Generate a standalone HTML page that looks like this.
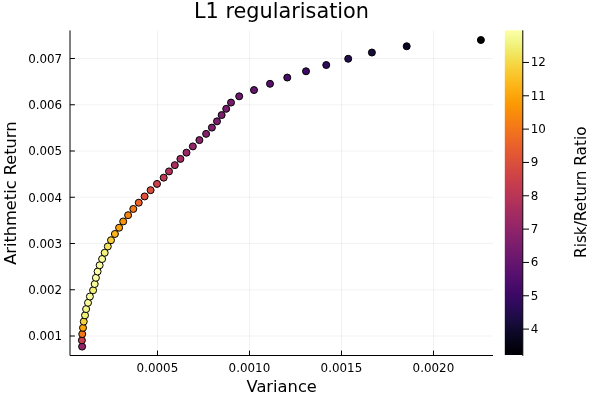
<!DOCTYPE html>
<html><head><meta charset="utf-8"><title>L1 regularisation</title>
<style>html,body{margin:0;padding:0;background:#fff;overflow:hidden}svg{display:block}text{font-family:"DejaVu Sans","Liberation Sans",sans-serif;fill:#000}</style></head><body>
<svg width="600" height="400" viewBox="0 0 600 400">
<rect width="600" height="400" fill="#fff"/>
<defs><linearGradient id="g" x1="0" y1="0" x2="0" y2="1"><stop offset="0.0000" stop-color="#fcffa4"/><stop offset="0.0156" stop-color="#f8fb9a"/><stop offset="0.0312" stop-color="#f3f68a"/><stop offset="0.0469" stop-color="#f1f179"/><stop offset="0.0625" stop-color="#f2ea69"/><stop offset="0.0781" stop-color="#f3e35a"/><stop offset="0.0938" stop-color="#f5db4c"/><stop offset="0.1094" stop-color="#f7d340"/><stop offset="0.1250" stop-color="#f9cb35"/><stop offset="0.1406" stop-color="#fac42a"/><stop offset="0.1562" stop-color="#fbbc21"/><stop offset="0.1719" stop-color="#fcb418"/><stop offset="0.1875" stop-color="#fcac11"/><stop offset="0.2031" stop-color="#fca50a"/><stop offset="0.2188" stop-color="#fb9d07"/><stop offset="0.2344" stop-color="#fb9606"/><stop offset="0.2500" stop-color="#f98e09"/><stop offset="0.2656" stop-color="#f8870e"/><stop offset="0.2812" stop-color="#f68013"/><stop offset="0.2969" stop-color="#f47918"/><stop offset="0.3125" stop-color="#f1731d"/><stop offset="0.3281" stop-color="#ef6c23"/><stop offset="0.3438" stop-color="#eb6628"/><stop offset="0.3594" stop-color="#e8602d"/><stop offset="0.3750" stop-color="#e45a31"/><stop offset="0.3906" stop-color="#e05536"/><stop offset="0.4062" stop-color="#db503b"/><stop offset="0.4219" stop-color="#d74b3f"/><stop offset="0.4375" stop-color="#d24644"/><stop offset="0.4531" stop-color="#cc4248"/><stop offset="0.4688" stop-color="#c73e4c"/><stop offset="0.4844" stop-color="#c13a50"/><stop offset="0.5000" stop-color="#bc3754"/><stop offset="0.5156" stop-color="#b63458"/><stop offset="0.5312" stop-color="#b0315b"/><stop offset="0.5469" stop-color="#a92e5e"/><stop offset="0.5625" stop-color="#a32c61"/><stop offset="0.5781" stop-color="#9d2964"/><stop offset="0.5938" stop-color="#972766"/><stop offset="0.6094" stop-color="#902568"/><stop offset="0.6250" stop-color="#8a226a"/><stop offset="0.6406" stop-color="#84206b"/><stop offset="0.6562" stop-color="#7d1e6d"/><stop offset="0.6719" stop-color="#771c6d"/><stop offset="0.6875" stop-color="#71196e"/><stop offset="0.7031" stop-color="#6a176e"/><stop offset="0.7188" stop-color="#64156e"/><stop offset="0.7344" stop-color="#5d126e"/><stop offset="0.7500" stop-color="#57106e"/><stop offset="0.7656" stop-color="#510e6c"/><stop offset="0.7812" stop-color="#4a0c6b"/><stop offset="0.7969" stop-color="#440a68"/><stop offset="0.8125" stop-color="#3d0965"/><stop offset="0.8281" stop-color="#360961"/><stop offset="0.8438" stop-color="#2f0a5b"/><stop offset="0.8594" stop-color="#280b53"/><stop offset="0.8750" stop-color="#210c4a"/><stop offset="0.8906" stop-color="#1b0c41"/><stop offset="0.9062" stop-color="#150b37"/><stop offset="0.9219" stop-color="#10092d"/><stop offset="0.9375" stop-color="#0b0724"/><stop offset="0.9531" stop-color="#07051b"/><stop offset="0.9688" stop-color="#040312"/><stop offset="0.9844" stop-color="#02010a"/><stop offset="1.0000" stop-color="#000004"/></linearGradient></defs>
<path d="M157.50 30.40V355.50M249.50 30.40V355.50M341.50 30.40V355.50M433.50 30.40V355.50M70.00 336.00H493.00M70.00 289.75H493.00M70.00 243.50H493.00M70.00 197.25H493.00M70.00 151.00H493.00M70.00 104.75H493.00M70.00 58.50H493.00" stroke="#000" stroke-opacity="0.1" stroke-width="0.5" fill="none"/>
<path d="M70.00 30.40V355.50M70.00 355.50H493.00M157.50 355.50v-4.9M249.50 355.50v-4.9M341.50 355.50v-4.9M433.50 355.50v-4.9M70.00 336.00h4.9M70.00 289.75h4.9M70.00 243.50h4.9M70.00 197.25h4.9M70.00 151.00h4.9M70.00 104.75h4.9M70.00 58.50h4.9" stroke="#000" stroke-width="1" fill="none"/>
<g font-size="11.9">
<text x="157.40" y="371.8" text-anchor="middle">0.0005</text>
<text x="249.40" y="371.8" text-anchor="middle">0.0010</text>
<text x="341.40" y="371.8" text-anchor="middle">0.0015</text>
<text x="433.40" y="371.8" text-anchor="middle">0.0020</text>
<text x="62.2" y="340.35" text-anchor="end">0.001</text>
<text x="62.2" y="294.10" text-anchor="end">0.002</text>
<text x="62.2" y="247.85" text-anchor="end">0.003</text>
<text x="62.2" y="201.60" text-anchor="end">0.004</text>
<text x="62.2" y="155.35" text-anchor="end">0.005</text>
<text x="62.2" y="109.10" text-anchor="end">0.006</text>
<text x="62.2" y="62.85" text-anchor="end">0.007</text>
<text x="530.8" y="333.10">4</text>
<text x="530.8" y="299.77">5</text>
<text x="530.8" y="266.44">6</text>
<text x="530.8" y="233.11">7</text>
<text x="530.8" y="199.78">8</text>
<text x="530.8" y="166.45">9</text>
<text x="530.8" y="133.12">10</text>
<text x="530.8" y="99.79">11</text>
<text x="530.8" y="66.46">12</text>
</g>
<text x="281.5" y="17.5" font-size="20.8" text-anchor="middle">L1 regularisation</text>
<text x="281.7" y="391.7" font-size="16.3" text-anchor="middle">Variance</text>
<text transform="translate(16 193.2) rotate(-90)" font-size="16.2" text-anchor="middle">Arithmetic Return</text>
<text transform="translate(586 192.2) rotate(-90)" font-size="15.28" text-anchor="middle">Risk/Return Ratio</text>
<rect x="504.80" y="30.30" width="18.00" height="324.70" fill="url(#g)"/>
<path d="M522.80 30.30V355.90M522.80 329.10h6.2M522.80 295.77h6.2M522.80 262.44h6.2M522.80 229.11h6.2M522.80 195.78h6.2M522.80 162.45h6.2M522.80 129.12h6.2M522.80 95.79h6.2M522.80 62.46h6.2" stroke="#000" stroke-width="1" fill="none"/>
<g stroke="#000" stroke-width="1">
<circle cx="82.10" cy="346.60" r="3.5" fill="#8f2469"/>
<circle cx="81.90" cy="340.34" r="3.5" fill="#c73e4c"/>
<circle cx="82.25" cy="334.09" r="3.5" fill="#f37819"/>
<circle cx="83.00" cy="327.83" r="3.5" fill="#fca50a"/>
<circle cx="83.75" cy="321.57" r="3.5" fill="#f7d13d"/>
<circle cx="85.00" cy="315.32" r="3.5" fill="#f1ef75"/>
<circle cx="86.10" cy="309.06" r="3.5" fill="#f4f88e"/>
<circle cx="88.00" cy="302.80" r="3.5" fill="#f8fb9a"/>
<circle cx="89.90" cy="296.54" r="3.5" fill="#f9fc9d"/>
<circle cx="93.10" cy="290.29" r="3.5" fill="#f1ef75"/>
<circle cx="94.70" cy="284.03" r="3.5" fill="#f8fb9a"/>
<circle cx="95.90" cy="277.77" r="3.5" fill="#fafda1"/>
<circle cx="97.60" cy="271.52" r="3.5" fill="#fcffa4"/>
<circle cx="99.65" cy="265.26" r="3.5" fill="#fafda1"/>
<circle cx="102.10" cy="259.00" r="3.5" fill="#f8fb9a"/>
<circle cx="104.70" cy="252.75" r="3.5" fill="#f2f27d"/>
<circle cx="107.80" cy="246.49" r="3.5" fill="#f3e35a"/>
<circle cx="111.00" cy="240.23" r="3.5" fill="#f8cd37"/>
<circle cx="114.90" cy="233.97" r="3.5" fill="#fcb418"/>
<circle cx="119.10" cy="227.72" r="3.5" fill="#fca108"/>
<circle cx="123.20" cy="221.46" r="3.5" fill="#fa9407"/>
<circle cx="128.10" cy="215.20" r="3.5" fill="#f78410"/>
<circle cx="133.30" cy="208.95" r="3.5" fill="#f37819"/>
<circle cx="138.75" cy="202.69" r="3.5" fill="#eb6429"/>
<circle cx="144.60" cy="196.43" r="3.5" fill="#dd513a"/>
<circle cx="150.60" cy="190.18" r="3.5" fill="#d84c3e"/>
<circle cx="157.00" cy="183.92" r="3.5" fill="#cb4149"/>
<circle cx="163.70" cy="177.66" r="3.5" fill="#bf3952"/>
<circle cx="169.00" cy="171.40" r="3.5" fill="#b1325a"/>
<circle cx="174.80" cy="165.15" r="3.5" fill="#a82e5f"/>
<circle cx="180.40" cy="158.89" r="3.5" fill="#a22b62"/>
<circle cx="186.50" cy="152.63" r="3.5" fill="#972766"/>
<circle cx="192.85" cy="146.38" r="3.5" fill="#922568"/>
<circle cx="199.40" cy="140.12" r="3.5" fill="#8a226a"/>
<circle cx="206.10" cy="133.86" r="3.5" fill="#84206b"/>
<circle cx="211.90" cy="127.61" r="3.5" fill="#7f1e6c"/>
<circle cx="217.00" cy="121.35" r="3.5" fill="#7d1e6d"/>
<circle cx="221.65" cy="115.09" r="3.5" fill="#7c1d6d"/>
<circle cx="226.20" cy="108.83" r="3.5" fill="#781c6d"/>
<circle cx="231.00" cy="102.58" r="3.5" fill="#771c6d"/>
<circle cx="239.20" cy="96.32" r="3.5" fill="#721a6e"/>
<circle cx="254.00" cy="90.06" r="3.5" fill="#64156e"/>
<circle cx="270.00" cy="83.81" r="3.5" fill="#57106e"/>
<circle cx="287.25" cy="77.55" r="3.5" fill="#4a0c6b"/>
<circle cx="306.00" cy="71.29" r="3.5" fill="#3d0965"/>
<circle cx="326.25" cy="65.04" r="3.5" fill="#2d0b59"/>
<circle cx="348.20" cy="58.78" r="3.5" fill="#210c4a"/>
<circle cx="371.90" cy="52.52" r="3.5" fill="#160b39"/>
<circle cx="406.70" cy="46.26" r="3.5" fill="#0a0722"/>
<circle cx="480.90" cy="40.01" r="3.5" fill="#000004"/>
</g>
</svg></body></html>
